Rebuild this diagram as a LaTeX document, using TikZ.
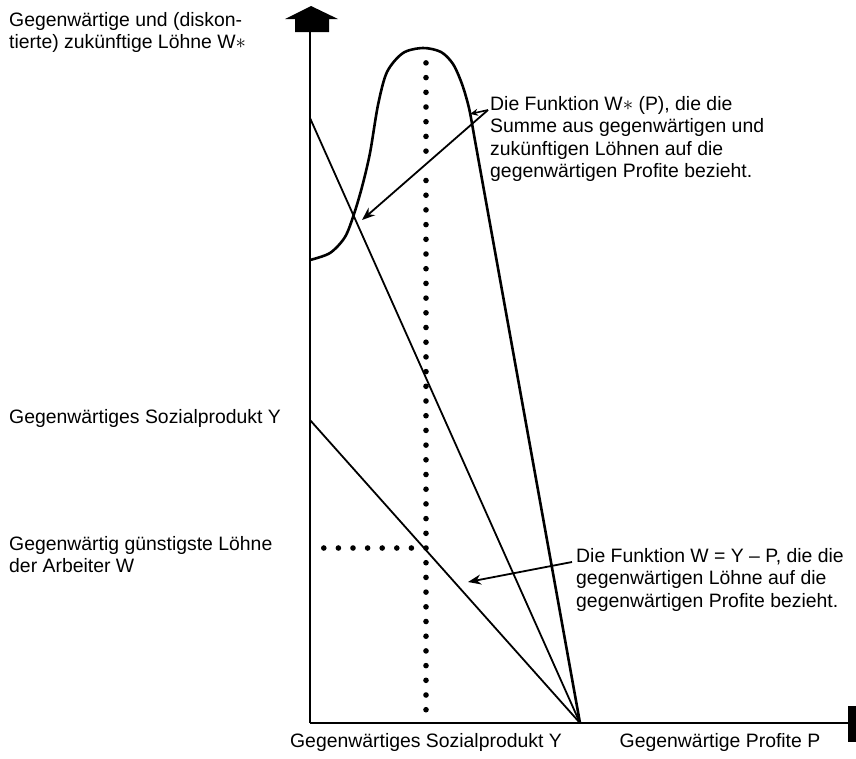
\documentclass[tikz,border=0pt]{standalone}
\usepackage{fontspec}
\setmainfont{Liberation Sans}
\usetikzlibrary{arrows.meta}
\begin{document}
\begin{tikzpicture}[x=1pt,y=-1pt,
  lbl/.style={font=\fontsize{19.4}{22.5}\selectfont, inner sep=0pt, align=left},
  axisline/.style={line width=2.8pt},
  graphline/.style={line width=1.8pt},
  curveline/.style={line width=2.6pt, line join=round},
  ptr/.style={line width=1.8pt, -{Stealth[length=13pt,width=10pt]}},
  dotmark/.style={fill=black}]
\useasboundingbox (0,0) rectangle (856,758);
\fill[white] (0,0) rectangle (856,758);
% coordinates
\coordinate (O) at (310,723);
\coordinate (Ytop) at (310,30);
\coordinate (Xend) at (850,723);
\coordinate (A1) at (310,118);
\coordinate (A2) at (310,420);
\coordinate (Pt) at (580,723);
\coordinate (C0) at (310,260);
\coordinate (Cr) at (474,135);
% axes
\draw[axisline] (O) -- (Ytop);
\draw[axisline] (O) -- (Xend);
\fill (285,19) -- (311,6) -- (338,19) -- (329,19) -- (329,32) -- (295,32) -- (295,19) -- cycle;
\fill (848,706) rectangle (856,742);
% straight lines
\draw[graphline] (A1) -- (Pt);
\draw[graphline] (A2) -- (Pt);
% curve W*(P)
\draw[curveline] plot[smooth, tension=0.5] coordinates {(C0) (330,253) (345,237) (354,214) (362,187) (370,153) (378,105) (387,72) (403,53) (423,48) (441,52) (453,64) (462,84) (469,108) (Cr)} -- (Pt);
% dotted vertical line
\foreach \k in {-11,...,33} {
  \ifnum\k=26\relax\else
    \fill[dotmark] (426,{548-\k*14.7}) circle[radius=2.8pt];
  \fi
}
% dotted horizontal line
\foreach \k in {1,...,7} {
  \fill[dotmark] ({426-\k*14.6},548) circle[radius=2.8pt];
}
% labels
\node[lbl, anchor=north west] (tl) at (9,12) {Gegenwärtige und (diskon-\\tierte) zukünftige Löhne W$\ast$};
\node[lbl, anchor=west] (ly) at (9,418) {Gegenwärtiges Sozialprodukt Y};
\node[lbl, anchor=north west] (lw) at (9,536) {Gegenwärtig günstigste Löhne\\der Arbeiter W};
\node[lbl, anchor=north west] (fw) at (490,96) {Die Funktion W$\ast$ (P), die die\\Summe aus gegenwärtigen und\\zukünftigen Löhnen auf die\\gegenwärtigen Profite bezieht.};
\node[lbl, anchor=north west] (fy) at (576,548) {Die Funktion W = Y – P, die die\\gegenwärtigen Löhne auf die\\gegenwärtigen Profite bezieht.};
\node[lbl, anchor=north] (bx1) at (426,733) {Gegenwärtiges Sozialprodukt Y};
\node[lbl, anchor=north] (bx2) at (720,733) {Gegenwärtige Profite P};
% pointers
\coordinate (fwtail) at (488,110);
\coordinate (fwhead1) at (470,114);
\coordinate (fwhead2) at (362,220);
\draw[line width=1.6pt, -{Stealth[length=8pt,width=7pt]}] (fwtail) -- (fwhead1);
\draw[ptr] (fwtail) -- (fwhead2);
\coordinate (fytail) at (572,562);
\coordinate (fyhead) at (468,582);
\draw[ptr] (fytail) -- (fyhead);
\end{tikzpicture}
\end{document}
